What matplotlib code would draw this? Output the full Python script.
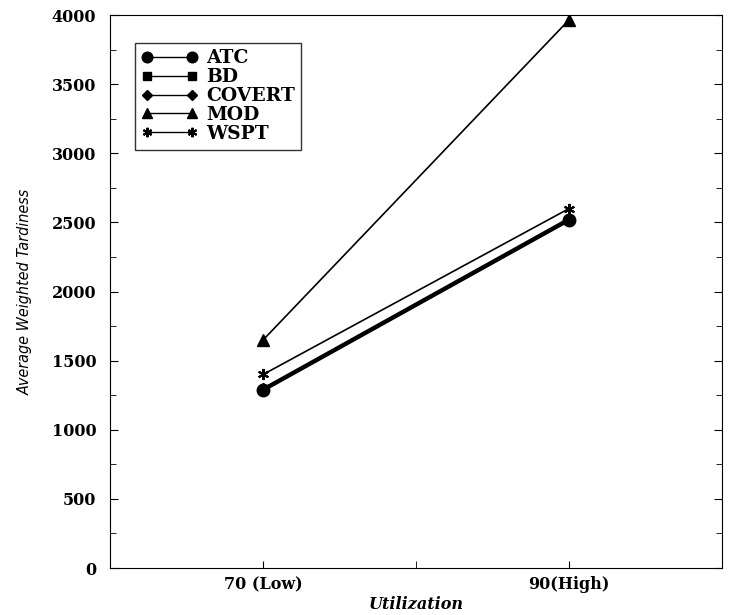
import matplotlib
matplotlib.use("Agg")
import matplotlib.pyplot as plt
from matplotlib.ticker import MultipleLocator, FixedLocator

categories = ["70 (Low)", "90(High)"]
series_names = ["ATC", "BD", "COVERT", "MOD", "WSPT"]
atc = [1290, 2520]
bd = [1285, 2515]
covert = [1295, 2525]
mod = [1650, 3965]
wspt = [1400, 2600]

fig = plt.figure(figsize=(7.3, 6.15), dpi=100)
ax = fig.add_axes([0.151, 0.0764, 0.838, 0.8992])

x = [1, 2]
serif = "DejaVu Serif"
ax.plot(x, atc, color="black", lw=2.3, marker="o", ms=9, label="ATC")
ax.plot(x, bd, color="black", lw=2.3, marker="s", ms=6, label="BD")
ax.plot(x, covert, color="black", lw=2.3, marker="D", ms=6, label="COVERT")
ax.plot(x, mod, color="black", lw=1.2, marker="^", ms=8, label="MOD")
ax.plot(x, wspt, color="black", lw=1.2, marker=(6, 2, 0), ms=8, mew=1.5, label="WSPT")

ax.set_xlim(0.5, 2.5)
ax.set_ylim(0, 4000)
ax.set_xticks(x)
ax.set_xticklabels(categories, fontfamily=serif, fontweight="bold", fontsize=11.5)
ax.xaxis.set_minor_locator(FixedLocator([1.5]))
ax.yaxis.set_major_locator(MultipleLocator(500))
ax.yaxis.set_minor_locator(MultipleLocator(250))
for lab in ax.get_yticklabels():
    lab.set_fontfamily(serif)
    lab.set_fontweight("bold")
    lab.set_fontsize(11.5)
ax.tick_params(axis="both", which="both", direction="in", right=True, top=False)
ax.tick_params(axis="y", which="major", length=6, pad=10)
ax.tick_params(axis="y", which="minor", length=4)
ax.tick_params(axis="x", which="major", length=5, pad=6)
ax.tick_params(axis="x", which="minor", length=5)

ax.set_xlabel("Utilization", fontfamily=serif, fontstyle="italic", fontweight="bold", fontsize=11.5, labelpad=2)
ax.set_ylabel("Average Weighted Tardiness", fontfamily="DejaVu Sans", fontstretch="condensed",
              fontstyle="italic", fontsize=11.5, labelpad=14)

leg = ax.legend(loc="upper left", bbox_to_anchor=(0.04, 0.95), frameon=True, fancybox=False,
                edgecolor="black", numpoints=2, handlelength=3.0, handletextpad=0.45, labelspacing=0.05,
                borderpad=0.35, borderaxespad=0.0, markerscale=0.85,
                prop={"family": serif, "weight": "bold", "size": 13.5})
leg.get_frame().set_linewidth(1.0)
for h in leg.legend_handles:
    h.set_linewidth(1.0)

fig.savefig("out.png", dpi=100)
